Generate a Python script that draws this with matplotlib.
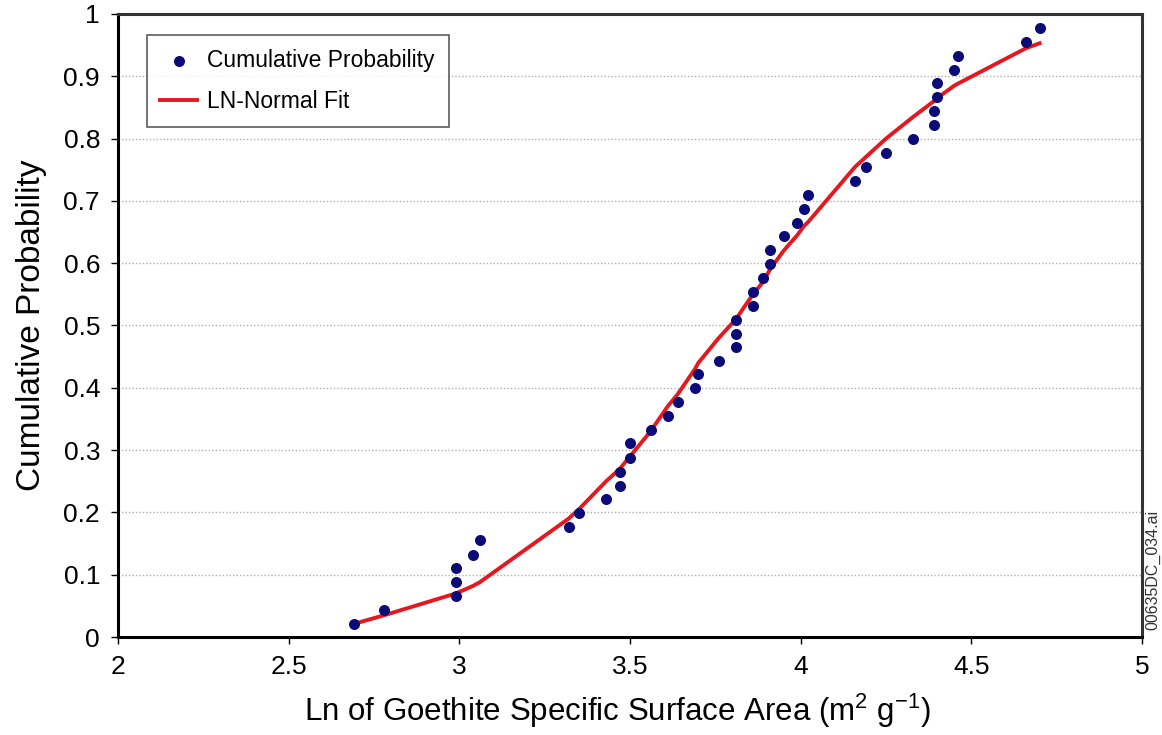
import matplotlib.pyplot as plt
import matplotlib

plt.rcParams['font.family'] = ['Liberation Sans', 'DejaVu Sans']
matplotlib.rcParams['mathtext.default'] = 'regular'

# measured points (ln of surface area, cumulative probability)
ln_ssa = [2.69, 2.78, 2.99, 2.99, 2.99, 3.04, 3.06, 3.32, 3.35, 3.43, 3.47,
          3.47, 3.50, 3.50, 3.56, 3.61, 3.64, 3.69, 3.70, 3.76, 3.81,
          3.81, 3.81, 3.86, 3.86, 3.89, 3.91, 3.91, 3.95, 3.99, 4.01,
          4.02, 4.16, 4.19, 4.25, 4.33, 4.39, 4.39, 4.40, 4.40, 4.45,
          4.46, 4.66, 4.70]
cum_prob = [0.021, 0.043, 0.066, 0.088, 0.110, 0.132, 0.155, 0.177, 0.199,
            0.221, 0.243, 0.265, 0.288, 0.311, 0.332, 0.355, 0.377, 0.399,
            0.422, 0.443, 0.465, 0.487, 0.509, 0.531, 0.553, 0.576, 0.598,
            0.621, 0.643, 0.665, 0.687, 0.710, 0.732, 0.755, 0.777, 0.799,
            0.821, 0.844, 0.866, 0.889, 0.910, 0.933, 0.955, 0.978]

# fitted curve
fit_x = [2.69, 2.78, 2.99, 3.04, 3.06, 3.32, 3.35, 3.43, 3.47, 3.50, 3.56,
         3.61, 3.64, 3.69, 3.70, 3.76, 3.81, 3.86, 3.89, 3.91, 3.95, 3.99,
         4.01, 4.02, 4.16, 4.19, 4.25, 4.33, 4.39, 4.40, 4.45, 4.46, 4.66,
         4.70]
fit_y = [0.021, 0.035, 0.070, 0.082, 0.088, 0.190, 0.205, 0.250, 0.270,
         0.290, 0.330, 0.370, 0.390, 0.430, 0.440, 0.480, 0.510, 0.550,
         0.570, 0.590, 0.620, 0.645, 0.660, 0.665, 0.755, 0.770, 0.800,
         0.835, 0.860, 0.865, 0.885, 0.888, 0.945, 0.953]

fig = plt.figure(figsize=(11.62, 7.35), dpi=100)
ax = fig.add_axes([0.1016, 0.1333, 0.8812, 0.8477])

ax.grid(axis='y', color='#b0b0b0', linestyle=(0, (1, 1.5)), linewidth=1.0)
ax.set_axisbelow(True)

ax.scatter(ln_ssa, cum_prob, s=48, color='#0a0a78', zorder=3,
           label='Cumulative Probability')
ax.plot(fit_x, fit_y, color='#e5171f', linewidth=2.8, zorder=2,
        label='LN-Normal Fit')

ax.set_xlim(2, 5)
ax.set_ylim(0, 1)
ax.set_xticks([2, 2.5, 3, 3.5, 4, 4.5, 5])
ax.set_xticklabels(['2', '2.5', '3', '3.5', '4', '4.5', '5'])
ax.set_yticks([i / 10 for i in range(11)])
ax.set_yticklabels(['0', '0.1', '0.2', '0.3', '0.4', '0.5', '0.6', '0.7',
                    '0.8', '0.9', '1'])
ax.tick_params(labelsize=19, direction='out', length=5, width=1.0,
               color='black', pad=8)

for side in ['left', 'bottom']:
    ax.spines[side].set_linewidth(2.2)
    ax.spines[side].set_color('black')
for side in ['top', 'right']:
    ax.spines[side].set_linewidth(2.2)
    ax.spines[side].set_color('#333333')

ax.set_xlabel('Ln of Goethite Specific Surface Area (m$^2$ g$^{-1}$)',
              fontsize=22.5, labelpad=9)
ax.xaxis.label.set_x(0.488)
ax.set_ylabel('Cumulative Probability', fontsize=24, labelpad=12)

leg = ax.legend(loc='upper left', bbox_to_anchor=(0.028, 0.966), fontsize=16.5,
                frameon=True, fancybox=False, edgecolor='#333333',
                borderpad=0.6, labelspacing=0.8, handlelength=1.6,
                handletextpad=0.45, borderaxespad=0, scatterpoints=1)
leg.get_frame().set_linewidth(1.2)

fig.text(0.992, 0.224, '00635DC_034.ai', rotation=90, fontsize=11.5,
         color='#333333', ha='center', va='center')

plt.savefig('out.png', dpi=100)
